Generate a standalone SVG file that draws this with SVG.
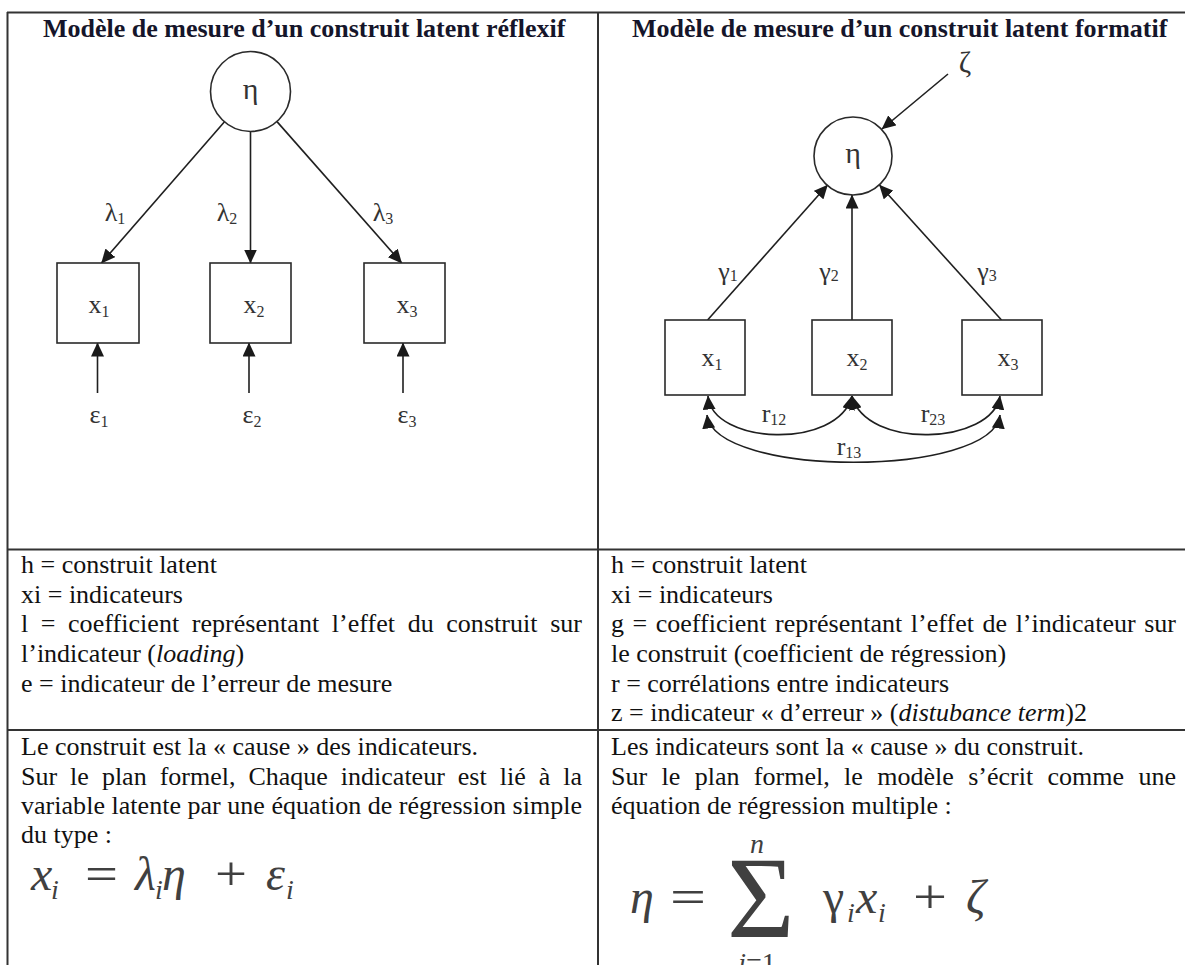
<svg xmlns="http://www.w3.org/2000/svg" width="1185" height="965" viewBox="0 0 1185 965">
<defs>
<marker id="ah" viewBox="0 0 14 13" refX="13.5" refY="6.5" markerWidth="14" markerHeight="13" markerUnits="userSpaceOnUse" orient="auto-start-reverse">
<path d="M0,0 L14,6.5 L0,13 z" fill="#1a1a1a"/>
</marker>
<style>
.tbl{stroke:#333;stroke-width:2;fill:none}
.hdr{font-family:"Liberation Serif",serif;font-weight:bold;font-size:26px;fill:#15152a}
.body{font-family:"Liberation Serif",serif;font-size:26px;fill:#111}
.nd{fill:#fff;stroke:#2a2a2a;stroke-width:1.6}
.lab{font-family:"Liberation Serif",serif;font-size:26px;fill:#333;text-anchor:middle}
.big{font-size:30px}
.sub{font-size:16px}
.con{stroke:#1f1f1f;stroke-width:1.6;fill:none;marker-end:url(#ah)}
.both{marker-start:url(#ah)}
.math{font-family:"Liberation Serif",serif;font-size:48px;fill:#404040}
.mi{font-style:italic}
.ms{font-size:28px}
</style>
</defs>
<rect width="1185" height="965" fill="#fff"/>

<g id="table">
<line class="tbl" x1="7" y1="12.5" x2="1185" y2="12.5"/>
<line class="tbl" x1="7.5" y1="12" x2="7.5" y2="965"/>
<line class="tbl" x1="598" y1="12" x2="598" y2="965"/>
<line class="tbl" x1="7" y1="549.5" x2="1185" y2="549.5"/>
<line class="tbl" x1="7" y1="730" x2="1185" y2="730"/>
</g>

<g id="headers">
<text class="hdr" x="43" y="37">Modèle de mesure d’un construit latent réflexif</text>
<text class="hdr" x="632" y="37">Modèle de mesure d’un construit latent formatif</text>
</g>

<g id="connectors">
<line class="con" x1="224.5" y1="121.7" x2="101.5" y2="263"/>
<line class="con" x1="250.5" y1="131.5" x2="250.5" y2="263"/>
<line class="con" x1="277" y1="121.6" x2="401.7" y2="263"/>
<line class="con" x1="97.5" y1="393" x2="97.5" y2="343"/>
<line class="con" x1="249" y1="393" x2="249" y2="343"/>
<line class="con" x1="403" y1="393" x2="403" y2="343"/>
<line class="con" x1="707.6" y1="320" x2="827.5" y2="185"/>
<line class="con" x1="852" y1="320" x2="852" y2="195"/>
<line class="con" x1="1001.5" y1="320" x2="879.5" y2="185"/>
<line class="con" x1="948" y1="74" x2="882" y2="129"/>
<path class="con both" d="M708,396 C712,445 838,450 852,396"/>
<path class="con both" d="M852,396 C866,450 992,445 1000,396"/>
<path class="con both" d="M707,415 C715,478 992,478 1000,415"/>
</g>

<g id="eta-left">
<circle class="nd" cx="250.5" cy="91.5" r="40"/>
<text class="lab big" x="250.5" y="99">η</text>
</g>
<g id="x1-left">
<rect class="nd" x="57" y="263" width="82" height="80"/>
<text class="lab" x="99" y="313">x<tspan class="sub" dy="4">1</tspan></text>
</g>
<g id="x2-left">
<rect class="nd" x="210" y="263" width="81" height="80"/>
<text class="lab" x="254" y="313">x<tspan class="sub" dy="4">2</tspan></text>
</g>
<g id="x3-left">
<rect class="nd" x="364" y="263" width="81" height="80"/>
<text class="lab" x="407" y="313">x<tspan class="sub" dy="4">3</tspan></text>
</g>
<g id="lambda-labels">
<text class="lab" x="115" y="221">λ<tspan class="sub" dy="3">1</tspan></text>
<text class="lab" x="227" y="221">λ<tspan class="sub" dy="3">2</tspan></text>
<text class="lab" x="383" y="221">λ<tspan class="sub" dy="3">3</tspan></text>
</g>
<g id="eps-labels">
<text class="lab" x="99" y="423">ε<tspan class="sub" dy="4">1</tspan></text>
<text class="lab" x="252" y="423">ε<tspan class="sub" dy="4">2</tspan></text>
<text class="lab" x="407" y="423">ε<tspan class="sub" dy="4">3</tspan></text>
</g>

<g id="eta-right">
<circle class="nd" cx="853" cy="156" r="39"/>
<text class="lab big" x="853" y="163">η</text>
</g>
<g id="zeta">
<text class="lab big" x="965" y="72">ζ</text>
</g>
<g id="x1-right">
<rect class="nd" x="665" y="320" width="80" height="75"/>
<text class="lab" x="712" y="366">x<tspan class="sub" dy="4">1</tspan></text>
</g>
<g id="x2-right">
<rect class="nd" x="812" y="320" width="80" height="75"/>
<text class="lab" x="857" y="366">x<tspan class="sub" dy="4">2</tspan></text>
</g>
<g id="x3-right">
<rect class="nd" x="962" y="320" width="80" height="75"/>
<text class="lab" x="1008" y="366">x<tspan class="sub" dy="4">3</tspan></text>
</g>
<g id="gamma-labels">
<text class="lab" x="728" y="280">γ<tspan class="sub" dy="1">1</tspan></text>
<text class="lab" x="829" y="280">γ<tspan class="sub" dy="1">2</tspan></text>
<text class="lab" x="987" y="280">γ<tspan class="sub" dy="1">3</tspan></text>
</g>
<g id="r-labels">
<text class="lab" x="774" y="422">r<tspan class="sub" dy="3">12</tspan></text>
<text class="lab" x="933" y="422">r<tspan class="sub" dy="3">23</tspan></text>
<text class="lab" x="849" y="455">r<tspan class="sub" dy="3">13</tspan></text>
</g>

<g id="left-defs" class="body">
<text x="21" y="573">h = construit latent</text>
<text x="21" y="602.5">xi = indicateurs</text>
<text x="21" y="632" word-spacing="6" textLength="561" lengthAdjust="spacing">l = coefficient représentant l’effet du construit sur</text>
<text x="21" y="661.5">l’indicateur (<tspan font-style="italic">loading</tspan>)</text>
<text x="21" y="691.5">e = indicateur de l’erreur de mesure</text>
</g>
<g id="right-defs" class="body">
<text x="611" y="573">h = construit latent</text>
<text x="611" y="602.5">xi = indicateurs</text>
<text x="611" y="632" word-spacing="2" textLength="565" lengthAdjust="spacing">g = coefficient représentant l’effet de l’indicateur sur</text>
<text x="611" y="661.5">le construit (coefficient de régression)</text>
<text x="611" y="691.5">r = corrélations entre indicateurs</text>
<text x="611" y="721">z = indicateur « d’erreur » (<tspan font-style="italic">distubance term</tspan>)2</text>
</g>

<g id="left-text" class="body">
<text x="21" y="755">Le construit est la « cause » des indicateurs.</text>
<text x="21" y="784.5" word-spacing="6.5" textLength="561" lengthAdjust="spacing">Sur le plan formel, Chaque indicateur est lié à la</text>
<text x="21" y="814" textLength="561" lengthAdjust="spacing">variable latente par une équation de régression simple</text>
<text x="21" y="843">du type :</text>
</g>
<g id="right-text" class="body">
<text x="611" y="755">Les indicateurs sont la « cause » du construit.</text>
<text x="611" y="784.5" word-spacing="7.9" textLength="565" lengthAdjust="spacing">Sur le plan formel, le modèle s’écrit comme une</text>
<text x="611" y="814">équation de régression multiple :</text>
</g>

<g id="formula-left" class="math">
<text class="mi" x="31" y="890">x</text>
<text class="mi ms" x="51" y="899">i</text>
<text x="85" y="890" textLength="33" lengthAdjust="spacingAndGlyphs">=</text>
<text class="mi" x="135" y="890">λ</text>
<text class="mi ms" x="155" y="899">i</text>
<text class="mi" x="162" y="890">η</text>
<text x="215" y="890" textLength="32" lengthAdjust="spacingAndGlyphs">+</text>
<text class="mi" x="266" y="890">ε</text>
<text class="mi ms" x="286" y="899">i</text>
</g>
<g id="formula-right" class="math">
<text class="mi" x="630" y="913">η</text>
<text x="670" y="913" textLength="36" lengthAdjust="spacingAndGlyphs">=</text>
<text x="727" y="937" font-size="116">Σ</text>
<text class="mi ms" x="757" y="853" text-anchor="middle">n</text>
<text class="ms" x="757" y="972" text-anchor="middle"><tspan font-style="italic">i</tspan>=1</text>
<text x="823" y="913">γ</text>
<text class="mi ms" x="847" y="922">i</text>
<text class="mi" x="856" y="913">x</text>
<text class="mi ms" x="878" y="922">i</text>
<text x="913" y="913" textLength="34" lengthAdjust="spacingAndGlyphs">+</text>
<text class="mi" x="966" y="913">ζ</text>
</g>
</svg>
